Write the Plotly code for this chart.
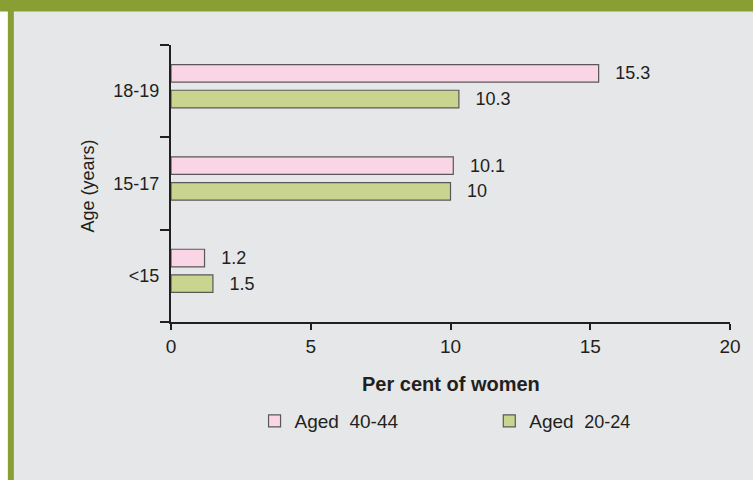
import plotly.graph_objects as go

categories = ["<15", "15-17", "18-19"]
aged_40_44 = [1.2, 10.1, 15.3]
aged_20_24 = [1.5, 10, 10.3]
labels_40_44 = ["1.2", "10.1", "15.3"]
labels_20_24 = ["1.5", "10", "10.3"]
x_ticks = [0, 5, 10, 15, 20]

FONT = "Arial, 'Liberation Sans', Helvetica, sans-serif"
INK = "#231f20"
PINK = "#f9d5e5"
GREEN = "#c9d48f"
BG = "#e6e7e8"
FRAME = "#8a9f33"

# plot area in pixels: x 171..733, y 45..322
L, R, T, B = 171, 20, 45, 158
W, H = 753, 480
pw, ph = W - L - R, H - T - B


def px_x(p):
    return (p - L) / pw


def px_y(p):
    return (H - B - p) / ph


PAD = "\u00a0\u00a0\u2009"

fig = go.Figure()
fig.add_trace(go.Bar(
    y=categories, x=aged_40_44, orientation="h", name="Aged\u00a0 40-44",
    marker=dict(color=PINK, line=dict(color="#585858", width=1.2)),
    width=0.19, offset=0.098,
    text=labels_40_44, texttemplate=PAD + "%{text}", textposition="outside",
    textfont=dict(size=18, color=INK, family=FONT), constraintext="none",
    cliponaxis=False, legend="legend",
))
fig.add_trace(go.Bar(
    y=categories, x=aged_20_24, orientation="h",
    name="Aged\u00a0 <span style='font-size:18px'>20-24</span>",
    marker=dict(color=GREEN, line=dict(color="#585858", width=1.2)),
    width=0.19, offset=-0.18,
    text=labels_20_24, texttemplate=PAD + "%{text}", textposition="outside",
    textfont=dict(size=18, color=INK, family=FONT), constraintext="none",
    cliponaxis=False, legend="legend2",
))

shapes = [
    dict(type="rect", xref="paper", yref="paper", x0=px_x(-5), x1=px_x(7),
         y0=px_y(500), y1=px_y(-5), fillcolor="white", line=dict(width=0), layer="below"),
    dict(type="rect", xref="paper", yref="paper", x0=px_x(7), x1=px_x(13),
         y0=px_y(500), y1=px_y(5), fillcolor=FRAME, line=dict(width=0), layer="below"),
    dict(type="rect", xref="paper", yref="paper", x0=px_x(-5), x1=px_x(760),
         y0=px_y(11.5), y1=px_y(-5), fillcolor=FRAME, line=dict(width=0), layer="below"),
]

fig.update_layout(
    width=W, height=H,
    margin=dict(l=L, r=R, t=T, b=B, pad=0),
    paper_bgcolor=BG, plot_bgcolor=BG,
    font=dict(family=FONT, size=18, color=INK),
    barmode="overlay",
    showlegend=True,
    shapes=shapes,
    xaxis=dict(
        range=[0, 20], tickvals=x_ticks, ticks="outside", ticklen=6, tickwidth=2,
        tickcolor=INK, showline=True, linewidth=2, linecolor=INK,
        showgrid=False, zeroline=False, tickfont=dict(size=19),
    ),
    yaxis=dict(
        type="category", categoryorder="array", categoryarray=categories,
        range=[-0.5, 2.5], tickson="boundaries", ticks="outside", ticklen=9,
        tickwidth=2, tickcolor=INK, showline=True, linewidth=2, linecolor=INK,
        showgrid=False, zeroline=False, tickfont=dict(size=18),
        ticklabelstandoff=6,
    ),
    annotations=[
        dict(text="Age (years)", xref="paper", yref="paper", x=px_x(88), y=px_y(186),
             textangle=-90, showarrow=False, xanchor="center", yanchor="middle",
             font=dict(size=18)),
        dict(text="<b>Per cent of women</b>", xref="paper", yref="paper",
             x=0.5, y=px_y(384), showarrow=False, xanchor="center", yanchor="middle",
             font=dict(size=20)),
    ],
    legend=dict(x=px_x(255), y=px_y(421), xanchor="left", yanchor="middle",
                bgcolor="rgba(0,0,0,0)", font=dict(size=19)),
    legend2=dict(x=px_x(491), y=px_y(421), xanchor="left", yanchor="middle",
                 bgcolor="rgba(0,0,0,0)", font=dict(size=19)),
)

fig.write_html("out.html")
